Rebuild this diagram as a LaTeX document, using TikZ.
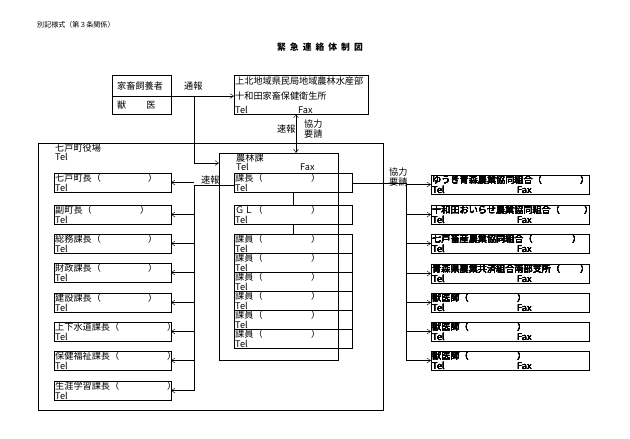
\documentclass[tikz,border=0pt]{standalone}
\usepackage{fontspec}
\setmainfont{Noto Sans CJK JP}
\usetikzlibrary{arrows.meta}
\tikzset{
  box/.style={draw,line width=0.5pt,inner sep=0,outer sep=0},
  txt/.style={anchor=west,inner sep=0,font=\fontsize{7.8}{8.5}\selectfont},
  arr/.style={-{Straight Barb[length=3pt,width=4pt]}},
}
% one entry: name, x, y, width, label, x of closing paren
\newcommand{\member}[6]{%
  \node[box,anchor=north west,minimum width=#4*0.03cm,minimum height=19*0.03cm] (#1) at (#2,#3) {};
  \node[txt] at (#2+1,#3+5) {#5};
  \node[txt] at (#6,#3+5) {）};
  \node[txt] at (#2+1,#3+15) {Tel};
}
\begin{document}
\begin{tikzpicture}[x=0.03cm,y=-0.03cm]
\useasboundingbox (0,0) rectangle (630,439);
\node[txt,font=\fontsize{6}{7}\selectfont] (form) at (37,25) {別記様式（第３条関係）};
\node[inner sep=0,font=\fontsize{7.5}{8}\bfseries\selectfont] (title) at (320,47) {緊\ \ 急\ \ 連\ \ 絡\ \ 体\ \ 制\ \ 図};
% farmer
\node[box,anchor=north west,minimum width=59*0.03cm,minimum height=39*0.03cm] (farm) at (112,75) {};
\draw (112,96) -- (171,96);
\node[txt] at (117,86) {家畜飼養者};
\node[txt] at (117,105) {獣\hspace{2.2em}医};
\node[txt] (tsuho) at (184,86) {通報};
% health office
\node[box,anchor=north west,minimum width=134*0.03cm,minimum height=39*0.03cm] (office) at (234,75) {};
\node[txt] at (235,81) {上北地域県民局地域農林水産部};
\node[txt] at (235,96) {十和田家畜保健衛生所};
\node[txt] at (235,110) {Tel};
\node[txt] at (298,110) {Fax};
% town hall
\node[box,anchor=north west,minimum width=345*0.03cm,minimum height=267*0.03cm] (town) at (38,143) {};
\node[txt] at (55,148) {七戸町役場};
\node[txt] at (55,157) {Tel};
\node[box,anchor=north west,minimum width=119*0.03cm,minimum height=207*0.03cm] (dept) at (219,153) {};
\node[txt] at (236,158) {農林課};
\node[txt] at (236,167) {Tel};
\node[txt] at (300,167) {Fax};
\member{chief}{234}{173}{118}{課長（}{311}
\member{gl}{234}{205}{118}{ＧＬ（}{311}
\foreach \i in {0,...,5}
  \member{staff\i}{234}{234+19*\i}{118}{課員（}{311}
\draw (chief) -- (gl) (gl) -- (staff0);
% town officials
\foreach \n/\y/\lab/\p in {0/173/七戸町長（/148, 1/205/副町長（/140, 2/234/総務課長（/148,
    3/263/財政課長（/148, 4/293/建設課長（/148, 5/322/上下水道課長（/167,
    6/351/保健福祉課長（/167, 7/381/生涯学習課長（/167}
  \member{off\n}{54}{\y}{117}{\lab}{\p}
% partners
\member{part0}{431}{175}{158}{ゆうき青森農業協同組合（}{580}
\member{part1}{431}{205}{158}{十和田おいらせ農業協同組合（}{584}
\member{part2}{431}{234}{158}{七戸畜産農業協同組合（}{572}
\member{part3}{431}{264}{158}{青森県農業共済組合南部支所（}{580}
\member{part4}{431}{293}{158}{獣医師（}{517}
\member{part5}{431}{322}{158}{獣医師（}{517}
\member{part6}{431}{351}{158}{獣医師（}{517}
\foreach \t in {175,205,234,264,293,322,351}
  \node[txt] at (517,\t+15) {Fax};
% connectors
\coordinate (busA) at (194,96);
\draw[arr] (farm.east |- busA) -- (office.west |- busA);
\draw[arr] (busA) |- (dept.west |- 0,163);
\draw[{Straight Barb[length=3pt,width=4pt]}-{Straight Barb[length=3pt,width=4pt]}] (office.south -| 296,0) -- (dept.north -| 296,0);
\node[txt] at (277,129) {速報};
\node[txt,align=left] at (304,129) {協力\\要請};
\coordinate (busL) at (194,185);
\draw (chief.west |- busL) -- (busL) -- (194,391);
\node[txt] at (201,180) {速報};
\foreach \n in {0,...,7}
  \draw[arr] (off\n.east -| busL) -- (off\n.east);
\coordinate (busR) at (406,183);
\draw (chief.east |- busR) -- (busR) -- (406,361);
\node[txt,align=left] at (389,177) {協力\\要請};
\foreach \n in {0,...,6}
  \draw[arr] (part\n.west -| busR) -- (part\n.west);
\end{tikzpicture}
\end{document}
